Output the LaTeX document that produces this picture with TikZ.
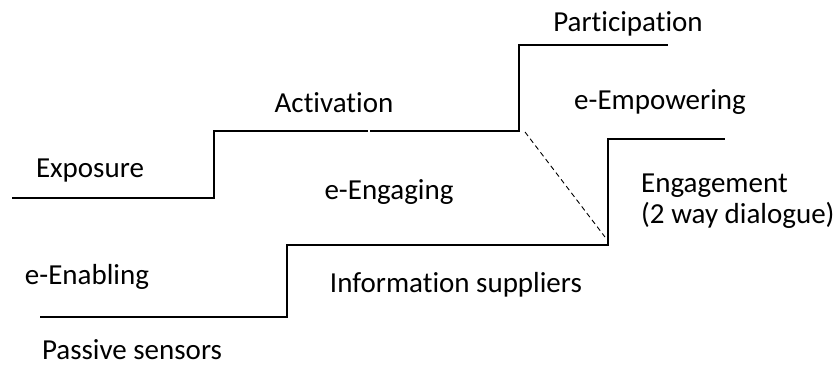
\documentclass[tikz,border=0pt]{standalone}
\usepackage{fontspec}
\setmainfont[Ligatures={NoCommon}]{Carlito}
\begin{document}
\begin{tikzpicture}[x=1pt,y=-1pt,
  stair/.style={line width=1.6pt, line join=miter, line cap=butt},
  lbl/.style={inner sep=0pt, anchor=base, font=\fontsize{29}{34}\selectfont},
  lblw/.style={lbl, anchor=base west}]
\useasboundingbox (0,0) rectangle (838,365);
% upper staircase corners
\coordinate (u0) at (12,198);
\coordinate (u1) at (214,198);
\coordinate (u2) at (214,131);
\coordinate (ugapA) at (368,131);
\coordinate (ugapB) at (370,131);
\coordinate (u3) at (519,131);
\coordinate (u4) at (519,45);
\coordinate (u5) at (668,45);
% lower staircase corners
\coordinate (l0) at (40,317);
\coordinate (l1) at (287,317);
\coordinate (l2) at (287,245);
\coordinate (l3) at (608,245);
\coordinate (l4) at (608,139);
\coordinate (l5) at (725,139);
\coordinate (tA) at (490,245);
\coordinate (tB) at (533,245);
% dashed
\coordinate (d0) at (525,132);
\coordinate (d1) at (605,237);

\draw[stair] (u0) -- (u1) -- (u2) -- (ugapA);
\draw[stair] (ugapB) -- (u3) -- (u4) -- (u5);
\draw[stair] (l0) -- (l1) -- (l2) -- (l3) -- (l4) -- (l5);
\draw[line width=2.4pt] (tA) -- (tB);
\draw[dashed, line width=0.9pt, dash pattern=on 5pt off 3.5pt] (d0) -- (d1);

\node[lbl] (part) at (628,31) {Participation};
\node[lbl] (act) at (334,112) {Activation};
\node[lbl] (emp) at (660,109) {e-Empowering};
\node[lbl] (expo) at (90,177) {Exposure};
\node[lbl] (eng) at (389,199) {e-Engaging};
\node[lblw] (engm) at (641,192) {Engagement};
\node[lblw] (dial) at (641,223) {(2 way dialogue)};
\node[lbl] (enab) at (87,284) {e-Enabling};
\node[lbl] (info) at (456,292) {Information suppliers};
\node[lbl] (pass) at (132,359) {Passive sensors};
\end{tikzpicture}
\end{document}
